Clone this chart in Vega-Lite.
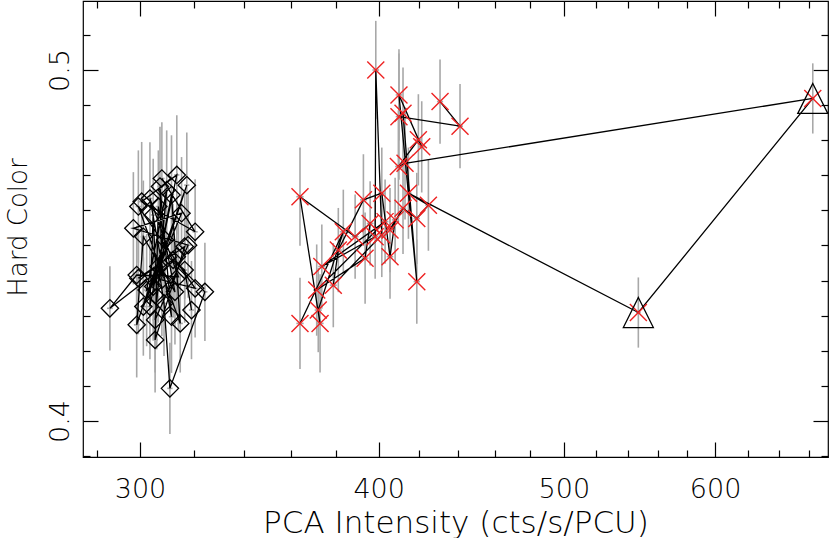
{
  "$schema": "https://vega.github.io/schema/vega-lite/v6.json",
  "width": 745,
  "height": 456,
  "autosize": "none",
  "padding": {"left": 83, "top": 1, "right": 2, "bottom": 81},
  "background": "white",
  "config": {
    "view": {"stroke": "#000", "strokeWidth": 1.2},
    "axis": {
      "domain": false, "grid": false, "tickColor": "#000", "tickWidth": 1.2,
      "labelFont": "DejaVu Sans", "labelFontWeight": 200, "labelFontSize": 27, "labelColor": "#000",
      "titleFont": "DejaVu Sans", "titleFontWeight": 200, "titleFontSize": 31, "titleColor": "#000"
    }
  },
  "data": {"values": [
    {"g":"A","s":1,"x":308.0,"y":0.4691,"e":0.016,"ex":1.0,"t":0},
    {"g":"A","s":2,"x":320.6,"y":0.4539,"e":0.015,"ex":1.0,"t":0},
    {"g":"A","s":3,"x":300.6,"y":0.4625,"e":0.017,"ex":1.0,"t":0},
    {"g":"A","s":4,"x":313.6,"y":0.4701,"e":0.017,"ex":1.0,"t":0},
    {"g":"A","s":5,"x":304.8,"y":0.4383,"e":0.015,"ex":1.0,"t":0},
    {"g":"A","s":6,"x":317.4,"y":0.4672,"e":0.015,"ex":1.0,"t":0},
    {"g":"A","s":7,"x":301.2,"y":0.4326,"e":0.014,"ex":1.0,"t":0},
    {"g":"A","s":8,"x":315.4,"y":0.4592,"e":0.016,"ex":1.0,"t":0},
    {"g":"A","s":9,"x":297.6,"y":0.4549,"e":0.016,"ex":1.0,"t":0},
    {"g":"A","s":10,"x":317.9,"y":0.4501,"e":0.015,"ex":1.0,"t":0},
    {"g":"A","s":11,"x":305.5,"y":0.4288,"e":0.015,"ex":1.0,"t":0},
    {"g":"A","s":12,"x":309.8,"y":0.4658,"e":0.017,"ex":1.0,"t":0},
    {"g":"A","s":13,"x":302.4,"y":0.4373,"e":0.016,"ex":1.0,"t":0},
    {"g":"A","s":14,"x":313.6,"y":0.4468,"e":0.016,"ex":1.0,"t":0},
    {"g":"A","s":15,"x":289.3,"y":0.4321,"e":0.012,"ex":1.0,"t":0},
    {"g":"A","s":16,"x":298.8,"y":0.4416,"e":0.014,"ex":1.0,"t":0},
    {"g":"A","s":17,"x":314.2,"y":0.4411,"e":0.015,"ex":1.0,"t":0},
    {"g":"A","s":18,"x":303.6,"y":0.4634,"e":0.016,"ex":1.0,"t":0},
    {"g":"A","s":19,"x":311.6,"y":0.4297,"e":0.016,"ex":1.0,"t":0},
    {"g":"A","s":20,"x":307.3,"y":0.4668,"e":0.017,"ex":1.0,"t":0},
    {"g":"A","s":21,"x":308.0,"y":0.4402,"e":0.016,"ex":1.0,"t":0},
    {"g":"A","s":22,"x":320.6,"y":0.4378,"e":0.014,"ex":1.0,"t":0},
    {"g":"A","s":23,"x":299.4,"y":0.4611,"e":0.016,"ex":1.0,"t":0},
    {"g":"A","s":24,"x":314.9,"y":0.4278,"e":0.014,"ex":1.0,"t":0},
    {"g":"A","s":25,"x":311.6,"y":0.4644,"e":0.017,"ex":1.0,"t":0},
    {"g":"A","s":26,"x":303.6,"y":0.4326,"e":0.015,"ex":1.0,"t":0},
    {"g":"A","s":27,"x":304.8,"y":0.4587,"e":0.016,"ex":1.0,"t":0},
    {"g":"A","s":28,"x":306.1,"y":0.4354,"e":0.015,"ex":1.0,"t":0},
    {"g":"A","s":29,"x":309.2,"y":0.4516,"e":0.016,"ex":1.0,"t":0},
    {"g":"A","s":30,"x":298.8,"y":0.4274,"e":0.015,"ex":1.0,"t":0},
    {"g":"A","s":31,"x":301.2,"y":0.4525,"e":0.016,"ex":1.0,"t":0},
    {"g":"A","s":32,"x":312.9,"y":0.4368,"e":0.015,"ex":1.0,"t":0},
    {"g":"A","s":33,"x":306.7,"y":0.4611,"e":0.016,"ex":1.0,"t":0},
    {"g":"A","s":34,"x":305.5,"y":0.4231,"e":0.015,"ex":1.0,"t":0},
    {"g":"A","s":35,"x":316.6,"y":0.4497,"e":0.015,"ex":1.0,"t":0},
    {"g":"A","s":36,"x":299.4,"y":0.4407,"e":0.016,"ex":1.0,"t":0},
    {"g":"A","s":37,"x":306.7,"y":0.4440,"e":0.016,"ex":1.0,"t":0},
    {"g":"A","s":38,"x":308.8,"y":0.4335,"e":0.015,"ex":1.0,"t":0},
    {"g":"A","s":39,"x":311.0,"y":0.4093,"e":0.013,"ex":1.0,"t":0},
    {"g":"A","s":40,"x":324.4,"y":0.4368,"e":0.014,"ex":1.0,"t":0},
    {"g":"A","s":41,"x":312.2,"y":0.4459,"e":0.016,"ex":1.0,"t":0},
    {"g":"A","s":42,"x":316.6,"y":0.4430,"e":0.015,"ex":1.0,"t":0},
    {"g":"A","s":43,"x":319.2,"y":0.4316,"e":0.014,"ex":1.0,"t":0},
    {"g":"B","s":1,"x":363.8,"y":0.4278,"e":0.013,"ex":1.6,"t":0},
    {"g":"B","s":2,"x":383.3,"y":0.4539,"e":0.012,"ex":1.6,"t":0},
    {"g":"B","s":3,"x":371.9,"y":0.4316,"e":0.012,"ex":1.6,"t":0},
    {"g":"B","s":4,"x":372.7,"y":0.4278,"e":0.014,"ex":1.6,"t":0},
    {"g":"B","s":5,"x":363.8,"y":0.4639,"e":0.014,"ex":1.6,"t":0},
    {"g":"B","s":6,"x":388.8,"y":0.4525,"e":0.012,"ex":1.6,"t":0},
    {"g":"B","s":7,"x":395.9,"y":0.4563,"e":0.012,"ex":1.6,"t":0},
    {"g":"B","s":8,"x":393.5,"y":0.4464,"e":0.013,"ex":1.6,"t":0},
    {"g":"B","s":9,"x":371.2,"y":0.4373,"e":0.013,"ex":1.6,"t":0},
    {"g":"B","s":10,"x":403.1,"y":0.4568,"e":0.012,"ex":1.6,"t":0},
    {"g":"B","s":11,"x":373.5,"y":0.4440,"e":0.012,"ex":1.6,"t":0},
    {"g":"B","s":12,"x":398.3,"y":0.4525,"e":0.012,"ex":1.6,"t":0},
    {"g":"B","s":13,"x":398.6,"y":0.5000,"e":0.014,"ex":1.6,"t":0},
    {"g":"B","s":14,"x":401.5,"y":0.4530,"e":0.012,"ex":1.6,"t":0},
    {"g":"B","s":15,"x":378.7,"y":0.4387,"e":0.012,"ex":1.6,"t":0},
    {"g":"B","s":16,"x":381.0,"y":0.4487,"e":0.012,"ex":1.6,"t":0},
    {"g":"B","s":17,"x":392.7,"y":0.4630,"e":0.013,"ex":1.6,"t":0},
    {"g":"B","s":18,"x":401.5,"y":0.4649,"e":0.013,"ex":1.6,"t":0},
    {"g":"B","s":19,"x":405.5,"y":0.4468,"e":0.012,"ex":1.6,"t":0},
    {"g":"B","s":20,"x":408.0,"y":0.4573,"e":0.012,"ex":1.6,"t":0},
    {"g":"B","s":21,"x":405.5,"y":0.4544,"e":0.012,"ex":1.6,"t":0},
    {"g":"B","s":22,"x":411.9,"y":0.4606,"e":0.013,"ex":1.6,"t":0},
    {"g":"B","s":23,"x":418.8,"y":0.4577,"e":0.013,"ex":1.6,"t":0},
    {"g":"B","s":24,"x":424.7,"y":0.4615,"e":0.013,"ex":1.6,"t":0},
    {"g":"B","s":25,"x":414.6,"y":0.4649,"e":0.013,"ex":1.6,"t":0},
    {"g":"B","s":26,"x":547.0,"y":0.4309,"e":0.010,"ex":1.6,"t":1},
    {"g":"B","s":27,"x":675.0,"y":0.4919,"e":0.010,"ex":1.6,"t":1},
    {"g":"B","s":28,"x":412.9,"y":0.4734,"e":0.016,"ex":1.6,"t":0},
    {"g":"B","s":29,"x":409.6,"y":0.4725,"e":0.016,"ex":1.6,"t":0},
    {"g":"B","s":30,"x":419.6,"y":0.4801,"e":0.013,"ex":1.6,"t":0},
    {"g":"B","s":31,"x":421.3,"y":0.4781,"e":0.013,"ex":1.6,"t":0},
    {"g":"B","s":32,"x":409.9,"y":0.4929,"e":0.013,"ex":1.6,"t":0},
    {"g":"B","s":33,"x":418.8,"y":0.4397,"e":0.012,"ex":1.6,"t":0},
    {"g":"B","s":34,"x":411.9,"y":0.4877,"e":0.013,"ex":1.6,"t":0},
    {"g":"B","s":35,"x":409.9,"y":0.4867,"e":0.018,"ex":1.6,"t":0},
    {"g":"B","s":36,"x":441.2,"y":0.4840,"e":0.012,"ex":1.6,"t":0},
    {"g":"B","s":37,"x":430.7,"y":0.4910,"e":0.012,"ex":1.6,"t":0}
  ]},
  "resolve": {"axis": {"x": "independent", "y": "independent"}},
  "layer": [
    {
      "mark": {"type": "errorbar", "color": "#a8a8a8", "thickness": 1.6},
      "encoding": {
        "x": {"field": "x", "type": "quantitative", "scale": {"type": "log", "domain": [280.07, 687.5], "nice": false, "zero": false}, "axis": null},
        "y": {"field": "y", "type": "quantitative", "scale": {"domain": [0.38974, 0.51966], "nice": false, "zero": false}, "axis": null},
        "yError": {"field": "e"}
      }
    },
    {
      "mark": {"type": "errorbar", "color": "#a8a8a8", "thickness": 1.6},
      "encoding": {
        "x": {"field": "x", "type": "quantitative", "axis": null},
        "xError": {"field": "ex"},
        "y": {"field": "y", "type": "quantitative", "axis": null}
      }
    },
    {
      "mark": {"type": "line", "color": "#000", "strokeWidth": 1.3},
      "encoding": {
        "x": {"field": "x", "type": "quantitative", "title": "PCA Intensity (cts/s/PCU)",
          "axis": {"orient": "bottom", "values": [300, 400, 500, 600], "tickSize": -15, "labelPadding": 34, "format": "d",
                   "titleX": 372.5, "titleY": 75, "titleBaseline": "alphabetic", "titleAlign": "center"}},
        "y": {"field": "y", "type": "quantitative", "title": "Hard Color",
          "axis": {"orient": "left", "values": [0.4, 0.5], "tickSize": -15, "labelPadding": 30, "format": ".1f",
                   "labelAngle": -90, "labelAlign": "center", "labelBaseline": "alphabetic",
                   "titleFontSize": 26,
                   "titleX": -57, "titleY": 226, "titleAngle": -90, "titleBaseline": "alphabetic", "titleAlign": "center"}},
        "detail": {"field": "g"},
        "order": {"field": "s", "type": "quantitative"}
      }
    },
    {
      "transform": [{"filter": "datum.g == 'A'"}],
      "mark": {"type": "point", "shape": "diamond", "size": 300, "filled": false, "stroke": "#000", "strokeWidth": 1.3, "opacity": 1},
      "encoding": {
        "x": {"field": "x", "type": "quantitative",
          "axis": {"orient": "bottom", "values": [285, 320, 340, 360, 380, 420, 440, 460, 480, 520, 540, 560, 580, 624, 648, 672], "tickSize": -7, "labels": false, "title": null}},
        "y": {"field": "y", "type": "quantitative",
          "axis": {"orient": "left", "values": [0.39, 0.41, 0.42, 0.43, 0.44, 0.45, 0.46, 0.47, 0.48, 0.49, 0.51], "tickSize": -7, "labels": false, "title": null}}
      }
    },
    {
      "transform": [{"filter": "datum.g == 'B'"}],
      "mark": {"type": "point", "shape": "M-1,-1L1,1M1,-1L-1,1", "size": 289, "filled": false, "stroke": "#ee2222", "strokeWidth": 1.4, "opacity": 1},
      "encoding": {
        "x": {"field": "x", "type": "quantitative",
          "axis": {"orient": "top", "values": [300, 400, 500, 600], "tickSize": -15, "labels": false, "title": null}},
        "y": {"field": "y", "type": "quantitative",
          "axis": {"orient": "right", "values": [0.4, 0.5], "tickSize": -15, "labels": false, "title": null}}
      }
    },
    {
      "transform": [{"filter": "datum.t == 1"}],
      "mark": {"type": "point", "shape": "M0,-1L1,1L-1,1Z", "size": 900, "filled": false, "stroke": "#000", "strokeWidth": 1.3, "opacity": 1},
      "encoding": {
        "x": {"field": "x", "type": "quantitative",
          "axis": {"orient": "top", "values": [285, 320, 340, 360, 380, 420, 440, 460, 480, 520, 540, 560, 580, 624, 648, 672], "tickSize": -7, "labels": false, "title": null}},
        "y": {"field": "y", "type": "quantitative",
          "axis": {"orient": "right", "values": [0.39, 0.41, 0.42, 0.43, 0.44, 0.45, 0.46, 0.47, 0.48, 0.49, 0.51], "tickSize": -7, "labels": false, "title": null}}
      }
    }
  ]
}
